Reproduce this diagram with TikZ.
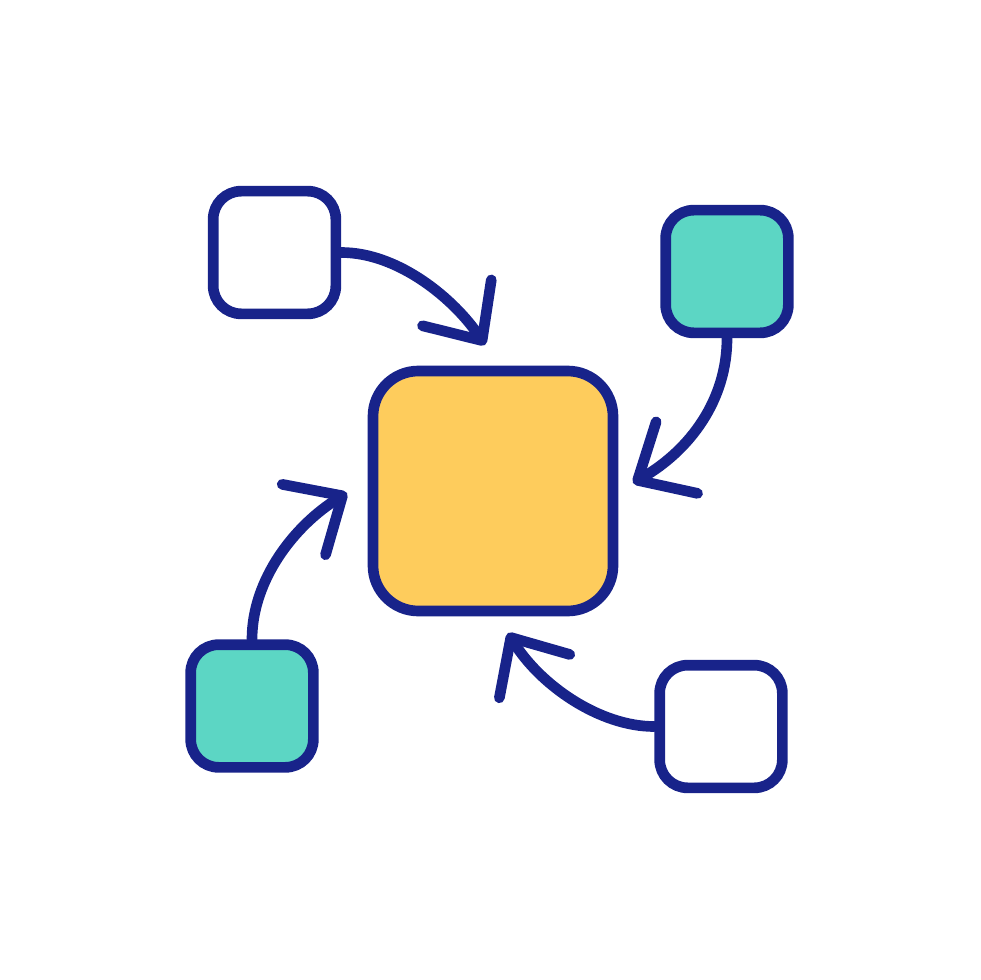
\documentclass[tikz,border=0pt]{standalone}
\usepackage{tikz}
\usepackage{xcolor}
\usetikzlibrary{arrows.meta}

\definecolor{navy}{RGB}{24,35,138}
\definecolor{teal}{RGB}{92,214,196}
\definecolor{hub}{RGB}{254,204,92}

\begin{document}
\begin{tikzpicture}[x=0.75pt,y=0.75pt,yscale=-1,xscale=1,
  box/.style={draw=navy, line width=8pt, rounded corners=21pt, minimum width=92pt, minimum height=92pt, inner sep=0pt},
  conn/.style={draw=navy, line width=8pt, line cap=round, -{Straight Barb[round,length=34pt,width=62pt]}}]
\path (0,0) rectangle (980,980); %set diagram to 980 x 980

%Shape: Rounded Rectangle [hub]
\node[box, fill=hub, minimum size=180pt, rounded corners=34pt] (hub) at (493,491) {};
%Shape: Rounded Rectangle [tl]
\node[box, fill=white] (tl) at (274.5,252.5) {};
%Shape: Rounded Rectangle [tr]
\node[box, fill=teal] (tr) at (727,271.5) {};
%Shape: Rounded Rectangle [bl]
\node[box, fill=teal] (bl) at (252,706) {};
%Shape: Rounded Rectangle [br]
\node[box, fill=white] (br) at (721,726.5) {};

% arrow tips
\coordinate (t1) at (485,345);
\coordinate (t2) at (633,483);
\coordinate (t3) at (347,493);
\coordinate (t4) at (508,633);

%Curve Lines
\draw[conn] (tl.east) .. controls +(58,0) and +(-30,-45) .. (t1);
\draw[conn] (tr.south) .. controls +(0,62) and +(57,-33) .. (t2);
\draw[conn] (bl.north) .. controls +(0,-60) and +(-52,32) .. (t3);
\draw[conn] (br.west) .. controls +(-55,0) and +(32,52) .. (t4);

\end{tikzpicture}
\end{document}
